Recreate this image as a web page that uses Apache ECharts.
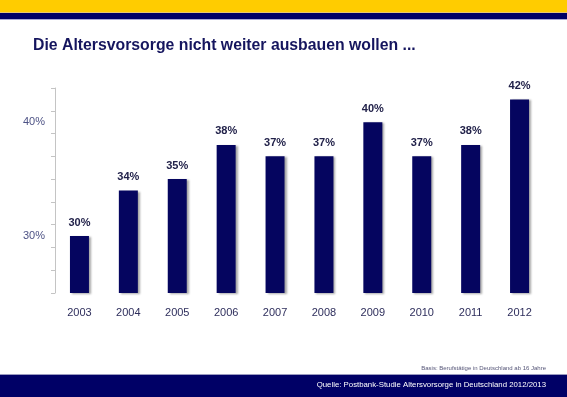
<!DOCTYPE html>
<html>
<head>
<meta charset="utf-8">
<script src="https://cdn.jsdelivr.net/npm/echarts@6/dist/echarts.min.js"></script>
<style>
html, body { margin: 0; padding: 0; background: #fff; }
#chart { width: 567px; height: 397px; }
</style>
</head>
<body>
<div id="chart"></div>
<script>
var years = ['2003', '2004', '2005', '2006', '2007', '2008', '2009', '2010', '2011', '2012'];
var shares = [30, 34, 35, 38, 37, 37, 40, 37, 38, 42];
var tickValues = [25, 27, 29, 31, 33, 35, 37, 39, 41, 43];
var labelValues = [30, 40];

var font = 'Liberation Sans, Arial, sans-serif';
var dom = document.getElementById('chart');
var myChart = echarts.init(dom, null, {renderer: 'canvas'});

var option = {
	backgroundColor: '#ffffff',
	animation: false,
	textStyle: { fontFamily: font },
	title: {
		text: 'Die Altersvorsorge nicht weiter ausbauen wollen ...',
		left: 33,
		top: 38,
		padding: 0,
		textStyle: {
			color: '#15155e',
			fontSize: 15.8,
			fontWeight: 'bold',
			fontFamily: font
		}
	},
	grid: {
		left: 55,
		right: 23,
		top: 88,
		bottom: 104,
		containLabel: false
	},
	xAxis: {
		type: 'category',
		data: years,
		axisLine: { show: false },
		axisTick: { show: false },
		axisLabel: {
			color: '#2e2e5c',
			fontSize: 11,
			margin: 14,
			fontFamily: font
		}
	},
	yAxis: {
		type: 'value',
		min: 25,
		max: 43,
		splitLine: { show: false },
		axisLine: { show: true, lineStyle: { color: '#c4c4c4', width: 1 } },
		axisTick: {
			show: true,
			length: 4,
			customValues: tickValues,
			lineStyle: { color: '#c4c4c4' }
		},
		axisLabel: {
			customValues: labelValues,
			formatter: '{value}%',
			color: '#4d5285',
			fontSize: 11,
			margin: 10,
			fontFamily: font
		}
	},
	series: [{
		type: 'bar',
		data: shares,
		barWidth: 19,
		itemStyle: {
			color: '#05055f',
			shadowColor: 'rgba(0,0,0,0.35)',
			shadowBlur: 2,
			shadowOffsetX: 2,
			shadowOffsetY: 1
		},
		label: {
			show: true,
			position: 'top',
			distance: 8,
			formatter: '{c}%',
			color: '#22224a',
			fontSize: 11,
			fontWeight: 'bold',
			fontFamily: font
		}
	}],
	graphic: [
		{ type: 'rect', left: 0, top: 0, shape: { width: 567, height: 12 }, style: { fill: '#ffcc00' } },
		{ type: 'rect', left: 0, top: 12, shape: { width: 567, height: 1 }, style: { fill: '#e8c870' } },
		{ type: 'rect', left: 0, top: 13, shape: { width: 567, height: 6 }, style: { fill: '#000066' } },
		{ type: 'rect', left: 0, top: 19, shape: { width: 567, height: 1 }, style: { fill: '#a9a9d6' } },
		{ type: 'rect', left: 0, top: 375, shape: { width: 567, height: 22 }, style: { fill: '#000066' } },
		{ type: 'rect', left: 0, top: 374, shape: { width: 567, height: 1 }, style: { fill: '#9a9ac0' } },
		{
			type: 'text', right: 21, top: 365,
			style: { text: 'Basis: Berufstätige in Deutschland ab 16 Jahre', fill: '#555577', font: '6px ' + font }
		},
		{
			type: 'text', right: 21, top: 381,
			style: { text: 'Quelle: Postbank-Studie Altersvorsorge in Deutschland 2012/2013', fill: '#ffffff', font: '7.8px ' + font }
		}
	]
};
myChart.setOption(option, true);
</script>
</body>
</html>
